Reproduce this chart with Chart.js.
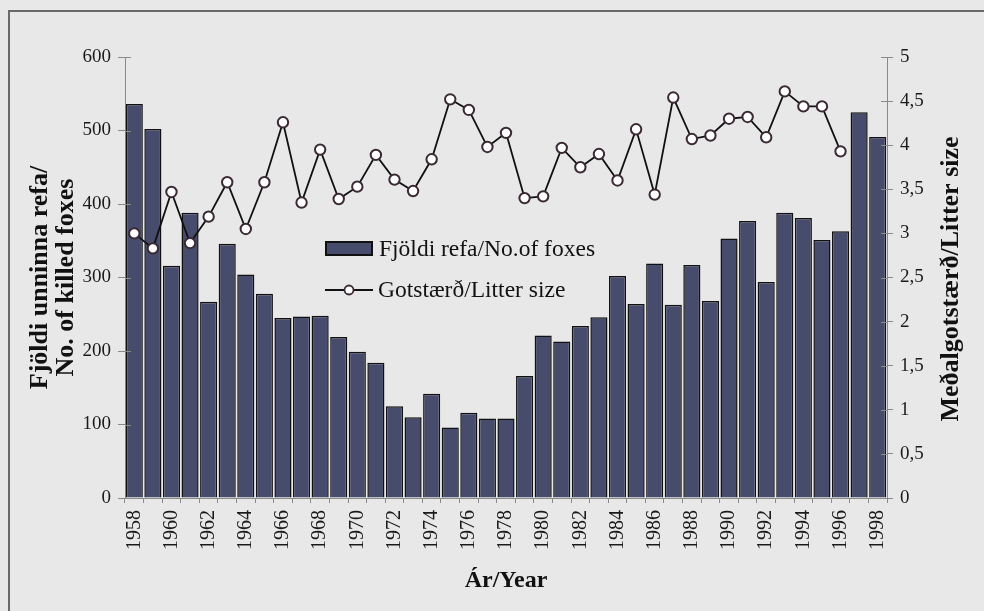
<!DOCTYPE html>
<html>
<head>
<meta charset="utf-8">
<script src="https://cdn.jsdelivr.net/npm/chart.js@4/dist/chart.umd.min.js"></script>
<style>
  html, body { margin: 0; padding: 0; background: #e8e8e8; }
  #wrap { position: relative; width: 984px; height: 611px; overflow: hidden; background: #e8e8e8; }
  #frame { position: absolute; left: 8px; top: 10px; width: 1000px; height: 700px; border-top: 2px solid #6a6a6a; border-left: 2px solid #6a6a6a; }
  canvas { position: absolute; left: 0; top: 0; }
</style>
</head>
<body>
<div id="wrap">
  <div id="frame"></div>
  <canvas id="c" width="984" height="611"></canvas>
</div>
<script>
const years = [1958,1959,1960,1961,1962,1963,1964,1965,1966,1967,1968,1969,1970,1971,1972,1973,1974,1975,1976,1977,1978,1979,1980,1981,1982,1983,1984,1985,1986,1987,1988,1989,1990,1991,1992,1993,1994,1995,1996,1997,1998];
const foxesKilled = [536,502,316,388,267,346,304,278,245,247,248,219,199,184,125,110,142,96,116,108,108,166,221,213,234,246,302,264,319,263,317,268,353,377,294,388,381,351,363,525,491];
const litterSize = [3.00,2.83,3.47,2.89,3.19,3.58,3.05,3.58,4.26,3.35,3.95,3.39,3.53,3.89,3.61,3.48,3.84,4.52,4.40,3.98,4.14,3.40,3.42,3.97,3.75,3.90,3.60,4.18,3.44,4.54,4.07,4.11,4.30,4.32,4.09,4.61,4.44,4.44,3.93,null,null];
const leftTicksMax = 600;
const rightTicksMax = 5;
const barLabel = 'Fjöldi refa/No.of foxes';
const lineLabel = 'Gotstærð/Litter size';
const xTitle = 'Ár/Year';
const leftTitle = ['Fjöldi unninna refa/', 'No. of killed foxes'];
const rightTitle = 'Meðalgotstærð/Litter size';

const SERIF = '"Liberation Serif", "Times New Roman", serif';
const BAR_COLOR = '#484c6c';
const AXIS_COLOR = '#8a8a8a';

const customLegend = {
  id: 'customLegend',
  afterDatasetsDraw(chart) {
    // inner halves of the crossing tick marks on both value axes
    const ctx = chart.ctx;
    ctx.save();
    ctx.strokeStyle = AXIS_COLOR;
    ctx.lineWidth = 1;
    const yl = chart.scales.yL, yr = chart.scales.yR;
    yl.ticks.forEach(t => {
      const y = Math.round(yl.getPixelForValue(t.value)) + 0.5;
      ctx.beginPath(); ctx.moveTo(yl.right, y); ctx.lineTo(yl.right + 6, y); ctx.stroke();
    });
    yr.ticks.forEach(t => {
      const y = Math.round(yr.getPixelForValue(t.value)) + 0.5;
      ctx.beginPath(); ctx.moveTo(yr.left - 6, y); ctx.lineTo(yr.left, y); ctx.stroke();
    });
    ctx.restore();
  },
  afterDraw(chart) {
    const ctx = chart.ctx;
    ctx.save();
    // bar legend
    const bx = 325, by = 241, bw = 48, bh = 15;
    ctx.fillStyle = BAR_COLOR;
    ctx.fillRect(bx, by, bw, bh);
    ctx.lineWidth = 2;
    ctx.strokeStyle = '#111';
    ctx.strokeRect(bx + 1, by + 1, bw - 2, bh - 2);
    ctx.fillStyle = '#111';
    ctx.font = '23.5px ' + SERIF;
    ctx.textBaseline = 'middle';
    ctx.textAlign = 'left';
    ctx.fillText(chart.data.datasets[1].label, 379, by + bh / 2 + 1);
    // line legend
    const ly = 290;
    ctx.beginPath();
    ctx.moveTo(325, ly);
    ctx.lineTo(373, ly);
    ctx.lineWidth = 1.8;
    ctx.strokeStyle = '#111';
    ctx.stroke();
    ctx.beginPath();
    ctx.arc(349, ly, 4.5, 0, Math.PI * 2);
    ctx.fillStyle = '#ffffff';
    ctx.fill();
    ctx.lineWidth = 1.8;
    ctx.strokeStyle = '#3b2a35';
    ctx.stroke();
    ctx.fillStyle = '#111';
    ctx.fillText(chart.data.datasets[0].label, 378, ly + 1);
    // right axis title (reads bottom-to-top)
    ctx.translate(951, 279);
    ctx.rotate(-Math.PI / 2);
    ctx.textAlign = 'center';
    ctx.font = 'bold 26px ' + SERIF;
    ctx.fillText(rightTitle, 0, 0);
    ctx.restore();
  }
};

new Chart(document.getElementById('c'), {
  data: {
    labels: years,
    datasets: [
      {
        type: 'line',
        label: lineLabel,
        data: litterSize,
        yAxisID: 'yR',
        borderColor: '#111',
        borderWidth: 1.8,
        pointRadius: 5.2,
        pointBackgroundColor: '#ffffff',
        pointBorderColor: '#3b2a35',
        pointBorderWidth: 2,
        tension: 0,
        spanGaps: false,
        order: 0
      },
      {
        type: 'bar',
        label: barLabel,
        data: foxesKilled,
        yAxisID: 'yL',
        backgroundColor: BAR_COLOR,
        borderColor: '#111',
        borderWidth: 1.5,
        barPercentage: 0.92,
        categoryPercentage: 1.0,
        order: 1
      }
    ]
  },
  options: {
    responsive: false,
    animation: false,
    devicePixelRatio: 1,
    layout: { padding: { left: 0, right: 0, top: 57, bottom: 0 } },
    plugins: {
      legend: { display: false },
      tooltip: { enabled: false }
    },
    scales: {
      x: {
        type: 'category',
        offset: true,
        afterFit(s) { s.height = 113; },
        grid: { display: true, drawOnChartArea: false, offset: true, tickLength: 5, color: AXIS_COLOR },
        border: { display: true, color: AXIS_COLOR, width: 1 },
        ticks: {
          autoSkip: false,
          maxRotation: 90,
          minRotation: 90,
          padding: 7,
          color: '#1a1a1a',
          font: { family: SERIF, size: 20 },
          callback: function(v, i) { return i % 2 === 0 ? String(years[i]) : ''; }
        },
        title: {
          display: true,
          text: xTitle,
          color: '#111',
          font: { family: SERIF, size: 24, weight: 'bold', lineHeight: 1.2 },
          padding: { top: 0, bottom: 16 }
        }
      },
      yL: {
        type: 'linear',
        position: 'left',
        min: 0,
        max: leftTicksMax,
        afterFit(s) { s.width = 125; },
        grid: { display: true, drawOnChartArea: false, tickLength: 7, color: AXIS_COLOR },
        border: { display: true, color: AXIS_COLOR, width: 1 },
        ticks: {
          stepSize: 100,
          padding: 7,
          color: '#1a1a1a',
          font: { family: SERIF, size: 19 }
        },
        title: {
          display: true,
          text: leftTitle,
          color: '#111',
          font: { family: SERIF, size: 26, weight: 'bold', lineHeight: 1.0 },
          padding: { top: 27, bottom: 0 }
        }
      },
      yR: {
        type: 'linear',
        position: 'right',
        min: 0,
        max: rightTicksMax,
        afterFit(s) { s.width = 97; },
        grid: { display: true, drawOnChartArea: false, tickLength: 6, color: AXIS_COLOR },
        border: { display: true, color: AXIS_COLOR, width: 1 },
        ticks: {
          stepSize: 0.5,
          padding: 7,
          color: '#1a1a1a',
          font: { family: SERIF, size: 19 },
          callback: function(v) { return String(v).replace('.', ','); }
        },
        title: { display: false }
      }
    }
  },
  plugins: [customLegend]
});
</script>
</body>
</html>
